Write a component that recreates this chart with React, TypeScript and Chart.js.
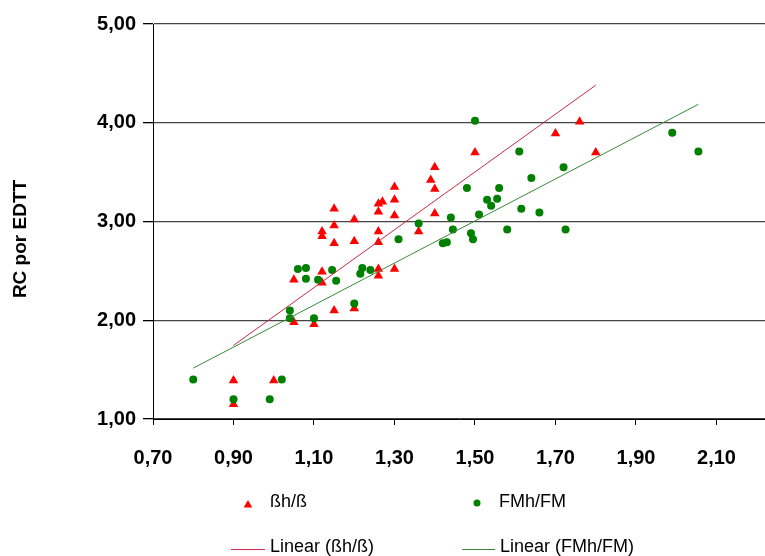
import React, { useEffect, useRef } from "react";
import { Chart, registerables } from "chart.js";

Chart.register(...registerables);

// ßh/ß series (red triangles)
const redX = [0.90, 0.90, 1.00, 1.05, 1.10, 1.15, 1.20, 1.05, 1.12, 1.12, 1.26, 1.26, 1.30, 1.12, 1.12, 1.15, 1.15, 1.15, 1.20, 1.20, 1.26, 1.27, 1.26, 1.26, 1.26, 1.30, 1.30, 1.30, 1.36, 1.39, 1.40, 1.40, 1.40, 1.50, 1.70, 1.76, 1.80];
const redY = [1.39, 1.15, 1.39, 1.98, 1.96, 2.10, 2.12, 2.41, 2.49, 2.38, 2.52, 2.45, 2.52, 2.90, 2.85, 3.13, 2.96, 2.78, 3.02, 2.80, 3.18, 3.20, 3.10, 2.90, 2.79, 3.35, 3.22, 3.06, 2.90, 3.42, 3.55, 3.33, 3.08, 3.70, 3.89, 4.01, 3.70];

// FMh/FM series (green circles)
const greenX = [0.80, 0.90, 0.99, 1.02, 1.04, 1.04, 1.10, 1.20, 1.06, 1.08, 1.08, 1.11, 1.145, 1.155, 1.215, 1.22, 1.24, 1.31, 1.36, 1.42, 1.43, 1.44, 1.445, 1.48, 1.49, 1.495, 1.50, 1.51, 1.53, 1.54, 1.555, 1.56, 1.58, 1.61, 1.615, 1.64, 1.66, 1.72, 1.725, 1.99, 2.055];
const greenY = [1.40, 1.20, 1.20, 1.40, 2.10, 2.02, 2.02, 2.17, 2.52, 2.53, 2.42, 2.41, 2.51, 2.40, 2.47, 2.53, 2.51, 2.82, 2.98, 2.78, 2.79, 3.04, 2.92, 3.34, 2.88, 2.82, 4.02, 3.07, 3.22, 3.16, 3.23, 3.34, 2.92, 3.71, 3.13, 3.44, 3.09, 3.55, 2.92, 3.90, 3.71];

// Trend line endpoints (as drawn in the reference)
const redTrendX = [0.90, 1.80];
const redTrendY = [1.745, 4.38];
const greenTrendX = [0.80, 2.055];
const greenTrendY = [1.515, 4.187];

// Axis ticks
const xTicks = [0.7, 0.9, 1.1, 1.3, 1.5, 1.7, 1.9, 2.1];
const yTicks = [1, 2, 3, 4, 5];

const seriesNames = ["ßh/ß", "FMh/FM", "Linear (ßh/ß)", "Linear (FMh/FM)"];
const yTitle = "RC por EDTT";

const RED = "#ff0000";
const GREEN = "#008000";
const RED_LINE = "#c8284a";
const GREEN_LINE = "#3a8a3a";

const pts = (xs: number[], ys: number[]) => xs.map((x, i) => ({ x, y: ys[i] }));
const fmt = (v: number, d: number) => v.toFixed(d).replace(".", ",");

const TICK_FONT = '"Liberation Sans", Arial, sans-serif';
const TEXT_FONT = '"Liberation Sans", Arial, sans-serif';

const overlayPlugin = {
  id: "overlay",
  afterDraw(chart: any) {
    const ctx = chart.ctx as CanvasRenderingContext2D;
    ctx.save();
    // Y axis title
    ctx.save();
    ctx.translate(21, 239);
    ctx.rotate(-Math.PI / 2);
    ctx.font = `bold 19px ${TEXT_FONT}`;
    ctx.fillStyle = "#000";
    ctx.textAlign = "center";
    ctx.textBaseline = "middle";
    ctx.fillText(yTitle, 0, 0);
    ctx.restore();

    // Legend
    ctx.font = `18px ${TEXT_FONT}`;
    ctx.fillStyle = "#000";
    ctx.textAlign = "left";
    ctx.textBaseline = "middle";
    // triangle
    const tx = 248, ty = 505, tr = 5;
    ctx.beginPath();
    ctx.moveTo(tx, ty - tr);
    ctx.lineTo(tx + tr * 0.866, ty + tr / 2);
    ctx.lineTo(tx - tr * 0.866, ty + tr / 2);
    ctx.closePath();
    ctx.fillStyle = RED;
    ctx.fill();
    ctx.fillStyle = "#000";
    ctx.fillText(seriesNames[0], 270, 502);
    // circle
    ctx.beginPath();
    ctx.arc(477, 503, 3.5, 0, Math.PI * 2);
    ctx.fillStyle = GREEN;
    ctx.fill();
    ctx.fillStyle = "#000";
    ctx.fillText(seriesNames[1], 499, 502);
    // lines
    ctx.lineWidth = 1;
    ctx.strokeStyle = RED_LINE;
    ctx.beginPath();
    ctx.moveTo(231, 549.5);
    ctx.lineTo(265, 549.5);
    ctx.stroke();
    ctx.fillText(seriesNames[2], 270, 547);
    ctx.strokeStyle = GREEN_LINE;
    ctx.beginPath();
    ctx.moveTo(462, 549.5);
    ctx.lineTo(495, 549.5);
    ctx.stroke();
    ctx.fillText(seriesNames[3], 500, 547);
    ctx.restore();
  },
};

export default function App() {
  const ref = useRef<HTMLCanvasElement | null>(null);

  useEffect(() => {
    if (!ref.current) return;
    const chart = new Chart(ref.current, {
      type: "scatter",
      data: {
        datasets: [
          {
            label: seriesNames[2],
            data: pts(redTrendX, redTrendY),
            showLine: true,
            borderColor: RED_LINE,
            borderWidth: 1,
            pointRadius: 0,
            fill: false,
          },
          {
            label: seriesNames[3],
            data: pts(greenTrendX, greenTrendY),
            showLine: true,
            borderColor: GREEN_LINE,
            borderWidth: 1,
            pointRadius: 0,
            fill: false,
          },
          {
            label: seriesNames[1],
            data: pts(greenX, greenY),
            pointStyle: "circle",
            pointRadius: 4,
            backgroundColor: GREEN,
            borderColor: GREEN,
            borderWidth: 0,
          },
          {
            label: seriesNames[0],
            data: pts(redX, redY),
            pointStyle: "triangle",
            pointRadius: 5.5,
            backgroundColor: RED,
            borderColor: RED,
            borderWidth: 0,
          },
        ],
      },
      options: {
        responsive: false,
        animation: false,
        layout: { autoPadding: false, padding: { top: 24, right: 0, bottom: 67, left: 0 } },
        plugins: {
          legend: { display: false },
          tooltip: { enabled: false },
        },
        scales: {
          x: {
            type: "linear",
            min: 0.7,
            max: 2.2205,
            afterBuildTicks: (scale: any) => {
              scale.ticks = xTicks.map((v) => ({ value: v }));
            },
            afterFit: (scale: any) => {
              scale.height = 70;
              scale.paddingLeft = 0;
              scale.paddingRight = 0;
            },
            grid: {
              drawOnChartArea: false,
              drawTicks: true,
              tickLength: 6,
              color: "#000",
            },
            border: { display: true, color: "#000", width: 1 },
            ticks: {
              padding: 21,
              color: "#000",
              maxRotation: 0,
              font: { family: TICK_FONT, size: 20, weight: "bold" },
              callback: (v: any) => fmt(Number(v), 2),
            },
          },
          y: {
            type: "linear",
            min: 1,
            max: 5,
            afterBuildTicks: (scale: any) => {
              scale.ticks = yTicks.map((v) => ({ value: v }));
            },
            afterFit: (scale: any) => {
              scale.width = 153;
              scale.paddingTop = 0;
              scale.paddingBottom = 0;
            },
            grid: {
              drawOnChartArea: true,
              drawTicks: true,
              tickLength: 10,
              color: "#444",
              tickColor: "#000",
              lineWidth: 1.3,
            },
            border: { display: true, color: "#000", width: 1 },
            ticks: {
              padding: 7,
              color: "#000",
              font: { family: TICK_FONT, size: 20, weight: "bold" },
              callback: (v: any) => fmt(Number(v), 2),
            },
          },
        },
      },
      plugins: [overlayPlugin],
    });
    return () => chart.destroy();
  }, []);

  return (
    <div style={{ position: "absolute", left: 0, top: 0, width: 765, height: 556, background: "#fff" }}>
      <canvas ref={ref} width={765} height={556} style={{ display: "block" }} />
    </div>
  );
}
